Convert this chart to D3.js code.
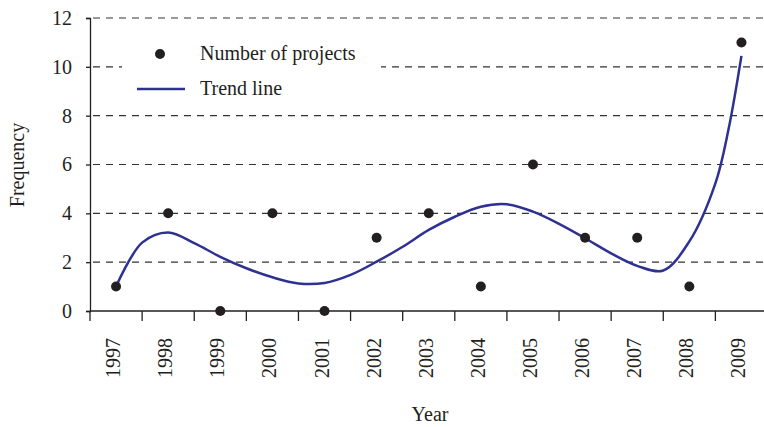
<!DOCTYPE html>
<html lang="en">
<head>
    <meta charset="UTF-8">
    <title>Number of projects per year</title>
    <script src="https://d3js.org/d3.v7.min.js"></script>
    <style>
        body { margin: 0; background: #fff; }
        svg text { font-family: "Liberation Serif", "DejaVu Serif", serif; fill: #231f20; }
    </style>
</head>
<body>
<svg width="764" height="427"></svg>
<script>

    // Data
    const years = ["1997", "1998", "1999", "2000", "2001", "2002", "2003",
                   "2004", "2005", "2006", "2007", "2008", "2009"];
    const projects = [1, 4, 0, 4, 0, 3, 4, 1, 6, 3, 3, 1, 11];

    // Trend line, sampled every half year (index 0 = 1997)
    const trendPos = [0, 0.5, 1, 1.5, 2, 2.5, 3, 3.5, 4, 4.5, 5, 5.5, 6, 6.5,
                      7, 7.5, 8, 8.5, 9, 9.5, 10, 10.5, 11, 11.5, 11.75, 12];
    const trendVal = [1.0, 2.8, 3.22, 2.78, 2.22, 1.75, 1.38, 1.13, 1.15, 1.48,
                      2.02, 2.63, 3.32, 3.86, 4.27, 4.37, 4.07, 3.57, 2.98, 2.36,
                      1.85, 1.66, 2.85, 5.23, 7.42, 10.45];

    const yTicks = [0, 2, 4, 6, 8, 10, 12];

    const svg = d3.select("svg");

    // Scales
    const x = d3.scaleBand()
        .domain(years)
        .range([90, 767.5])
        .padding(0);
    const bw = x.bandwidth();
    const xi = d3.scaleLinear()
        .domain([0, years.length - 1])
        .range([x(years[0]) + bw / 2, x(years[years.length - 1]) + bw / 2]);
    const y = d3.scaleLinear()
        .domain([0, 12])
        .range([311, 18]);

    // dashed grid lines
    svg.append("g")
        .selectAll("line")
        .data(yTicks.filter(d => d > 0))
        .enter().append("line")
        .attr("x1", 90)
        .attr("x2", 764)
        .attr("y1", d => y(d))
        .attr("y2", d => y(d))
        .attr("stroke", "#333")
        .attr("stroke-width", 1.2)
        .attr("stroke-dasharray", "7,6")
        .attr("stroke-dashoffset", -3);

    // y axis
    const yAxis = svg.append("g")
        .attr("transform", "translate(90,0)")
        .call(d3.axisLeft(y).tickValues(yTicks).tickSize(4).tickPadding(14).tickFormat(d3.format("d")));
    yAxis.select(".domain").attr("stroke", "#231f20").attr("stroke-width", 1.3);
    yAxis.selectAll(".tick line").attr("stroke", "#231f20").attr("stroke-width", 1.3);
    yAxis.selectAll("text")
        .attr("font-size", 20)
        .attr("font-family", null);

    // x axis (ticks at the category boundaries)
    const xg = svg.append("g");
    xg.append("line")
        .attr("x1", 90).attr("x2", 764)
        .attr("y1", y(0)).attr("y2", y(0))
        .attr("stroke", "#231f20")
        .attr("stroke-width", 1.3);
    xg.selectAll("line.tick")
        .data(years)
        .enter().append("line")
        .attr("class", "tick")
        .attr("x1", d => x(d)).attr("x2", d => x(d))
        .attr("y1", y(0)).attr("y2", y(0) + 10)
        .attr("stroke", "#231f20")
        .attr("stroke-width", 1.3);
    xg.selectAll("text")
        .data(years)
        .enter().append("text")
        .attr("transform", d => "translate(" + (x(d) + bw / 2 - 3) + "," + 338 + ") rotate(-90)")
        .attr("dy", "0.35em")
        .attr("text-anchor", "end")
        .attr("font-size", 20)
        .text(d => d);

    // axis titles
    svg.append("text")
        .attr("x", 430)
        .attr("y", 421)
        .attr("text-anchor", "middle")
        .attr("font-size", 20)
        .text("Year");
    svg.append("text")
        .attr("transform", "translate(24,165) rotate(-90)")
        .attr("text-anchor", "middle")
        .attr("font-size", 20)
        .text("Frequency");

    // trend line
    const line = d3.line()
        .x((d, i) => xi(trendPos[i]))
        .y(d => y(d))
        .curve(d3.curveCatmullRom.alpha(0.5));
    svg.append("path")
        .datum(trendVal)
        .attr("d", line)
        .attr("fill", "none")
        .attr("stroke", "#2e3192")
        .attr("stroke-width", 2.5);

    // points
    svg.append("g")
        .selectAll("circle")
        .data(projects)
        .enter().append("circle")
        .attr("cx", (d, i) => x(years[i]) + bw / 2)
        .attr("cy", d => y(d))
        .attr("r", 5)
        .attr("fill", "#231f20");

    // legend
    const legend = svg.append("g");
    legend.append("rect")
        .attr("x", 122).attr("y", 28)
        .attr("width", 259).attr("height", 80)
        .attr("fill", "#fff");
    legend.append("circle")
        .attr("cx", 160).attr("cy", 54).attr("r", 5)
        .attr("fill", "#231f20");
    legend.append("text")
        .attr("x", 200).attr("y", 60)
        .attr("font-size", 20)
        .text("Number of projects");
    legend.append("line")
        .attr("x1", 137).attr("x2", 185)
        .attr("y1", 89).attr("y2", 89)
        .attr("stroke", "#2e3192")
        .attr("stroke-width", 2.5);
    legend.append("text")
        .attr("x", 200).attr("y", 95)
        .attr("font-size", 20)
        .text("Trend line");

</script>
</body>
</html>
